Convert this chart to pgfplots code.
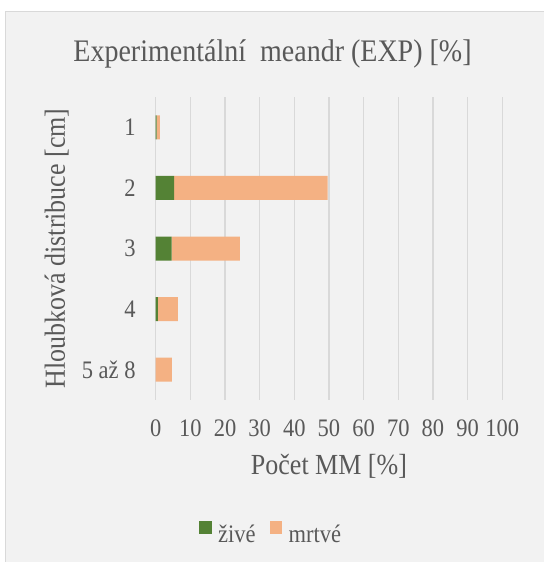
\documentclass[border=0pt]{standalone}
\usepackage{graphicx}
\usepackage{pgfplots}
\usepackage{pgfplotstable}
\pgfplotsset{compat=1.18}
\usepackage{fontspec}
\setmainfont{Liberation Serif}
\definecolor{bg}{HTML}{F2F2F2}
\definecolor{brd}{HTML}{D9D9D9}
\definecolor{txt}{HTML}{595959}
\definecolor{zive}{HTML}{548235}
\definecolor{mrtve}{HTML}{F4B183}
\newcommand{\vs}[1]{\scalebox{1}[1.12]{#1}}
\pgfplotstableread{
cat zive mrtve
0 0.3 0.9
1 5.3 44.3
2 4.6 19.7
3 0.6 5.8
4 0 4.7
}\data
\begin{document}
\begin{tikzpicture}[x=1pt,y=1pt]
\useasboundingbox (0,0) rectangle (544,562);
\fill[white] (0,0) rectangle (544,562);
\fill[bg] (5,0) rectangle (544,551);
\draw[brd, line width=1pt] (5.5,0) -- (5.5,550.5) -- (544,550.5);
\begin{axis}[
 at={(155.7pt,162pt)}, anchor=south west,
 width=346.5pt, height=303pt, scale only axis,
 xbar stacked, bar width=24pt,
 xmin=0, xmax=100, xtick={0,10,...,100},
 ymin=-0.5, ymax=4.5, y dir=reverse, ytick={0,1,2,3,4},
 yticklabels={\vs{1},\vs{2},\vs{3},\vs{4},\vs{5 až 8}},
 xticklabel={\vs{\pgfmathprintnumber[assume math mode=true]{\tick}}},
 axis line style={draw=none},
 major tick length=0pt,
 xmajorgrids, major x grid style={brd, line width=1.2pt},
 tick label style={font=\fontsize{22.5}{27}\selectfont, text=txt},
 xticklabel style={anchor=north, inner sep=0pt, yshift=-20pt},
 yticklabel style={anchor=east, inner sep=0pt, xshift=-20pt},
 xlabel={\vs{Počet MM [\%]}}, ylabel={\vs{Hloubková distribuce [cm]}},
 every axis x label/.style={at={(axis description cs:0.5,-0.2475)}, anchor=base, font=\fontsize{26}{31}\selectfont, text=txt},
 every axis y label/.style={at={(axis description cs:-0.2857,0.5)}, anchor=center, rotate=90, font=\fontsize{26}{31}\selectfont, text=txt},
 legend style={at={(axis description cs:0.333,-0.442)}, anchor=center, draw=none, fill=none, legend columns=2,
   font=\fontsize{22.5}{27}\selectfont, text=txt,
   /tikz/every even column/.append style={column sep=12pt}},
 legend image code/.code={\fill[#1] (0pt,1pt) rectangle (12.5pt,13.5pt); \path (17pt,0pt);},
]
\addplot[fill=zive, draw=none] table[x=zive, y=cat]{\data};
\addplot[fill=mrtve, draw=none] table[x=mrtve, y=cat]{\data};
\legend{\vs{živé}, \vs{mrtvé}}
\end{axis}
\node[anchor=base, text=txt, font=\fontsize{28}{34}\selectfont] at (272.5,500.3) {\vs{Experimentální\hspace{0.5em}meandr (EXP) [\%]}};
\end{tikzpicture}
\end{document}
